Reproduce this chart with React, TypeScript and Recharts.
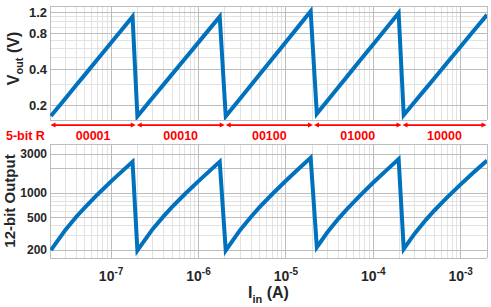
import React from 'react';
import {
  LineChart,
  Line,
  XAxis,
  YAxis,
  ReferenceLine,
} from 'recharts';

// input current (A) at each sweep point
const current = [
  2.05e-8, 3e-8, 4e-8, 5e-8, 7e-8, 1e-7, 1.4e-7, 1.76e-7,
  2.0e-7, 3e-7, 4e-7, 5e-7, 7e-7, 1e-6, 1.4e-6, 1.75e-6,
  2.05e-6, 3e-6, 4e-6, 5e-6, 7e-6, 1e-5, 1.4e-5, 1.92e-5,
  2.26e-5, 3e-5, 4e-5, 5e-5, 7e-5, 1e-4, 1.4e-4, 1.95e-4,
  2.23e-4, 3e-4, 4e-4, 5e-4, 7e-4, 1e-3, 1.4e-3, 2e-3,
];

const vout = [
  0.162, 0.227, 0.294, 0.358, 0.484, 0.665, 0.897, 1.1,
  0.161, 0.231, 0.298, 0.363, 0.489, 0.67, 0.903, 1.1,
  0.161, 0.227, 0.294, 0.361, 0.489, 0.676, 0.916, 1.22,
  0.169, 0.218, 0.283, 0.346, 0.469, 0.647, 0.875, 1.18,
  0.165, 0.214, 0.276, 0.336, 0.452, 0.619, 0.833, 1.14,
];

const output12 = [
  200, 354, 513, 664, 962, 1390, 1939, 2420,
  198, 364, 522, 676, 974, 1402, 1954, 2420,
  198, 354, 513, 671, 974, 1416, 1984, 2704,
  217, 333, 487, 636, 927, 1348, 1887, 2609,
  207, 323, 470, 612, 886, 1281, 1788, 2514,
];

// 5-bit range code and the current where each range starts / ends
const codes = ['00001', '00010', '00100', '01000', '10000'];
const rangeEdges = [2e-8, 1.94e-7, 2.02e-6, 2.07e-5, 2.13e-4, 2e-3];

const xDomain = [2e-8, 2e-3];
const xTicks = [1e-7, 1e-6, 1e-5, 1e-4, 1e-3];
const voutDomain = [0.15, 1.35];
const voutTicks = [0.2, 0.4, 0.8, 1.2];
const voutMinor = [0.3, 0.5, 0.6, 0.7, 0.9, 1.0, 1.1];
const outDomain = [160, 4000];
const outTicks = [200, 500, 1000, 2000, 3000];
const outMinor = [300, 400, 600, 700, 800, 900];
const arrowLevel = 0.136; // just under the V_out axis

const data = current.map((c, i) => ({ current: c, vout: vout[i], output: output12[i] }));

// minor grid on the log current axis: 2..9 x each decade
const xMinor: number[] = [];
for (let e = -8; e <= -3; e++) {
  for (let m = 2; m <= 9; m++) {
    const v = m * Math.pow(10, e);
    if (v > xDomain[0] && v < xDomain[1]) xMinor.push(v);
  }
}

const BLUE = '#0072BD';
const RED = '#ff0000';
const INK = '#262626';
const MINOR = '#e2e2e2';
const MAJOR = '#bdbdbd';
const FONT = '"Liberation Sans", Arial, sans-serif';
const W = 491;

const PowTick = ({ x, y, payload }: any) => {
  const exp = Math.round(Math.log10(payload.value));
  return (
    <text x={x} y={y + 22.5} textAnchor="middle" fill={INK} fontSize={14} fontWeight="bold" fontFamily={FONT}>
      <tspan>10</tspan>
      <tspan dy={-6} fontSize={10}>{exp}</tspan>
    </text>
  );
};

const RangeArrow = (props: any) => {
  const { x1, x2, y1, code } = props;
  const a = x1 + 0.5;
  const b = x2 - 0.5;
  const y = y1;
  return (
    <g>
      <line x1={a + 3} y1={y} x2={b - 3} y2={y} stroke={RED} strokeWidth={1.6} />
      <polygon points={`${a},${y} ${a + 5},${y - 2.5} ${a + 5},${y + 2.5}`} fill={RED} />
      <polygon points={`${b},${y} ${b - 5},${y - 2.5} ${b - 5},${y + 2.5}`} fill={RED} />
      <text x={(a + b) / 2} y={y + 14.5} textAnchor="middle" fill={RED} fontSize={12.5} fontWeight="bold" fontFamily={FONT}>
        {code}
      </text>
    </g>
  );
};

const gridShape = (color: string) => (p: any) => (
  <line x1={p.x1} y1={p.y1} x2={p.x2} y2={p.y2} stroke={color} strokeWidth={1} shapeRendering="crispEdges" />
);

// grid lines drawn as segments through the axis scales
const grid = (yDomain: number[], minorY: number[], majorY: number[]) => {
  const vLine = (v: number, color: string, k: string) => (
    <ReferenceLine
      key={k}
      segment={[{ x: v, y: yDomain[0] }, { x: v, y: yDomain[1] }]}
      ifOverflow="visible"
      shape={gridShape(color)}
    />
  );
  const hLine = (v: number, color: string, k: string) => (
    <ReferenceLine
      key={k}
      segment={[{ x: xDomain[0], y: v }, { x: xDomain[1], y: v }]}
      ifOverflow="visible"
      shape={gridShape(color)}
    />
  );
  return [
    ...xMinor.map((v, i) => vLine(v, MINOR, `xm${i}`)),
    ...minorY.map((v, i) => hLine(v, MINOR, `ym${i}`)),
    ...[...xTicks, ...xDomain].map((v, i) => vLine(v, MAJOR, `xM${i}`)),
    ...[...majorY, ...yDomain].map((v, i) => hLine(v, MAJOR, `yM${i}`)),
  ];
};

const App: React.FC = () => {
  return (
    <div style={{ position: 'absolute', left: 0, top: 0, width: W, height: 307, background: '#fff', fontFamily: FONT }}>
      <div style={{ position: 'absolute', left: 0, top: 0 }}>
        <LineChart width={W} height={145} data={data} margin={{ top: 6, right: 4, left: 0, bottom: 25 }}>
          <XAxis type="number" dataKey="current" scale="log" domain={xDomain} allowDataOverflow hide />
          <YAxis
            type="number"
            scale="log"
            domain={voutDomain}
            allowDataOverflow
            ticks={voutTicks}
            width={50}
            tickSize={0}
            tickMargin={3}
            axisLine={false}
            tick={{ fontSize: 13, fontWeight: 'bold', fill: INK, fontFamily: FONT }}
            tickFormatter={(v) => v.toFixed(1)}
          />
          {grid(voutDomain, voutMinor, voutTicks)}
          {codes.map((code, i) => (
            <ReferenceLine
              key={code}
              segment={[
                { x: rangeEdges[i], y: arrowLevel },
                { x: rangeEdges[i + 1], y: arrowLevel },
              ]}
              ifOverflow="visible"
              shape={(p: any) => <RangeArrow {...p} code={code} />}
            />
          ))}
          <Line type="linear" dataKey="vout" stroke={BLUE} strokeWidth={4} dot={false} isAnimationActive={false} />
        </LineChart>
      </div>

      <div style={{ position: 'absolute', left: 0, top: 140 }}>
        <LineChart width={W} height={167} data={data} margin={{ top: 4, right: 4, left: 0, bottom: 0 }}>
          <XAxis
            type="number"
            dataKey="current"
            scale="log"
            domain={xDomain}
            allowDataOverflow
            ticks={xTicks}
            height={49}
            tickSize={0}
            tickMargin={0}
            axisLine={false}
            tick={<PowTick />}
          />
          <YAxis
            type="number"
            scale="log"
            domain={outDomain}
            allowDataOverflow
            ticks={outTicks}
            width={50}
            tickSize={0}
            tickMargin={3}
            axisLine={false}
            tick={{ fontSize: 12, fontWeight: 'bold', fill: INK, fontFamily: FONT }}
          />
          {grid(outDomain, outMinor, outTicks)}
          <Line type="linear" dataKey="output" stroke={BLUE} strokeWidth={4} dot={false} isAnimationActive={false} />
        </LineChart>
      </div>

      <svg width={W} height={307} style={{ position: 'absolute', left: 0, top: 0, pointerEvents: 'none' }}>
        <text transform="translate(19,58.5) rotate(-90)" textAnchor="middle" fill={INK} fontSize={16} fontWeight="bold" fontFamily={FONT}>
          V<tspan fontSize={11} dy={4}>out</tspan>
          <tspan dy={-4}> (V)</tspan>
        </text>
        <text transform="translate(14.5,201) rotate(-90)" textAnchor="middle" fill={INK} fontSize={15} fontWeight="bold" fontFamily={FONT}>
          12-bit Output
        </text>
        <text x={268.5} y={298} textAnchor="middle" fill={INK} fontSize={16} fontWeight="bold" fontFamily={FONT}>
          I<tspan fontSize={11} dy={5}>in</tspan>
          <tspan dy={-5}> (A)</tspan>
        </text>
        <text x={6} y={139.5} fill={RED} fontSize={12.5} fontWeight="bold" fontFamily={FONT}>
          5-bit R
        </text>
      </svg>
    </div>
  );
};

export default App;
